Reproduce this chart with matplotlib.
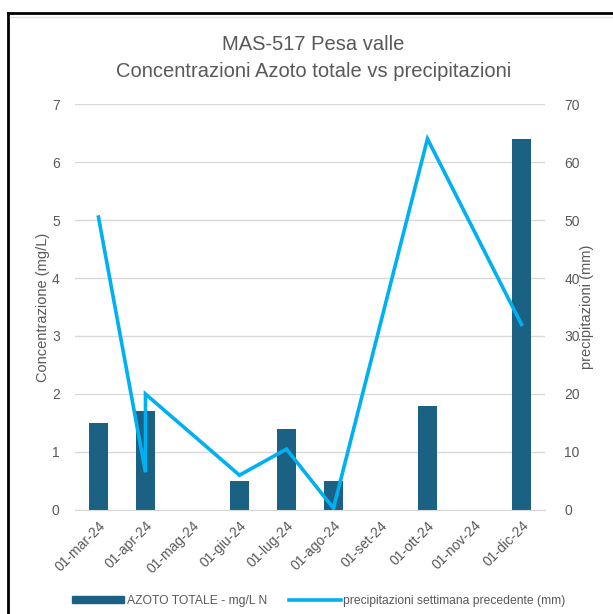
import matplotlib
matplotlib.use("Agg")
import matplotlib.pyplot as plt
from matplotlib.lines import Line2D
from matplotlib.patches import Rectangle

plt.rcParams['font.family'] = ['Liberation Sans Narrow', 'Liberation Sans', 'DejaVu Sans']

# month categories of the date axis
months = ['01-mar-24', '01-apr-24', '01-mag-24', '01-giu-24', '01-lug-24',
          '01-ago-24', '01-set-24', '01-ott-24', '01-nov-24', '01-dic-24']

# nitrogen samples (month label, mg/L)
n_dates = ['01-mar-24', '01-apr-24', '01-giu-24', '01-lug-24', '01-ago-24', '01-ott-24', '01-dic-24']
n_vals = [1.5, 1.7, 0.5, 1.4, 0.5, 1.8, 6.4]

# rain of the previous week (month label, mm)
r_dates = ['01-mar-24', '01-apr-24', '01-apr-24', '01-giu-24', '01-lug-24', '01-ago-24', '01-ott-24', '01-dic-24']
r_vals = [50.5, 6.5, 20.0, 6.0, 10.5, 0.3, 64.0, 32.0]

BAR_C = '#1a6184'
LINE_C = '#00b0f0'
TXT_C = '#595959'

fig = plt.figure(figsize=(6.13, 6.14), dpi=100)
ax = fig.add_axes([0.1223, 0.1694, 0.7667, 0.6612])
ax2 = ax.twinx()

xb = [months.index(d) for d in n_dates]
xr = [months.index(d) for d in r_dates]

ax.bar(xb, n_vals, width=0.4, color=BAR_C, zorder=2)
ax2.plot(xr, r_vals, color=LINE_C, lw=2.6, solid_joinstyle='miter', zorder=3)

ax.set_xlim(-0.5, len(months) - 0.5)
ax.set_ylim(0, 7)
ax2.set_ylim(0, 70)
ax.set_yticks(range(0, 8))
ax2.set_yticks(range(0, 71, 10))
ax.grid(axis='y', color='#d9d9d9', lw=1, zorder=0)
ax.set_axisbelow(True)

ax.set_xticks(range(len(months)))
ax.set_xticklabels(months, rotation=45, ha='right', rotation_mode='anchor')
for a in (ax, ax2):
    for s in a.spines.values():
        s.set_visible(False)
    a.tick_params(length=0, colors=TXT_C, labelsize=10)
ax.spines['bottom'].set_visible(True)
ax.spines['bottom'].set_color('#d9d9d9')
ax.tick_params(axis='y', pad=11)
ax2.tick_params(axis='y', pad=14)
ax.tick_params(axis='x', pad=6)

ax.set_ylabel('Concentrazione (mg/L)', color=TXT_C, fontsize=10.5, labelpad=1)
ax2.set_ylabel('precipitazioni (mm)', color=TXT_C, fontsize=10.5, labelpad=0)

fig.text(0.511, 0.928, 'MAS-517 Pesa valle', ha='center', va='center',
         fontsize=14.5, color=TXT_C, family=['Liberation Sans', 'DejaVu Sans'])
fig.text(0.511, 0.884, 'Concentrazioni Azoto totale vs precipitazioni', ha='center', va='center',
         fontsize=14.5, color=TXT_C, family=['Liberation Sans', 'DejaVu Sans'])

handles = [Rectangle((0, 0), 1, 1, color=BAR_C), Line2D([0], [0], color=LINE_C, lw=2.6)]
fig.legend(handles, ['AZOTO TOTALE - mg/L N', 'precipitazioni settimana precedente (mm)'],
           loc='center', bbox_to_anchor=(0.52, 0.021), ncol=2, frameon=False,
           fontsize=8.7, labelcolor=TXT_C, handlelength=4.3, handleheight=0.55,
           columnspacing=1.8, handletextpad=0.2)

# screenshot frame edges (top and left)
fig.add_artist(Line2D([0.013, 1.0], [0.979, 0.979], color='black', lw=2, transform=fig.transFigure))
fig.add_artist(Line2D([0.013, 0.013], [0.0, 0.979], color='black', lw=2, transform=fig.transFigure))
fig.add_artist(Line2D([0.016, 1.0], [0.972, 0.972], color='#e0e0e0', lw=1, transform=fig.transFigure))

fig.savefig('out.png', dpi=100)
